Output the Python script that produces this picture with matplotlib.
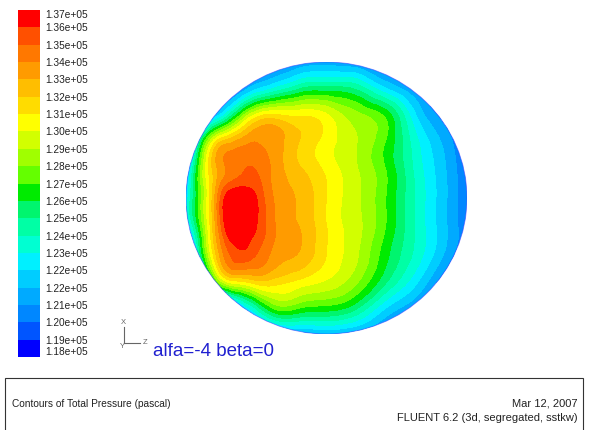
# Contours of total pressure on the outlet face (FLUENT-style snapshot).
import numpy as np
import matplotlib
matplotlib.use("Agg")
import matplotlib.pyplot as plt
import matplotlib.tri as mtri
from matplotlib.colors import ListedColormap, BoundaryNorm
from matplotlib.patches import Circle, Rectangle
from matplotlib.lines import Line2D

plt.rcParams["font.family"] = ["Liberation Sans", "DejaVu Sans"]

# sample nodes across the face, face radius = 1
grid_u = [-1.0, -0.8, -0.7, -0.6, -0.5, -0.4, -0.2, 0.0, 0.2, 0.4, 0.6, 0.8, 1.0]
grid_v = [1.0, 0.8, 0.6, 0.4, 0.2, 0.0, -0.2, -0.4, -0.6, -0.8, -1.0]

pressure_kpa = [
    [118.95, 119.4, 119.65, 119.9, 120.1, 120.4, 120.85, 121.3, 120.85, 120.4, 119.9, 119.4, 118.95],
    [119.4, 119.9, 120.4, 121.3, 122.75, 123.7, 125.6, 126.1, 125.6, 123.2, 121.3, 119.9, 118.95],
    [116.0, 122.3, 125.0, 128.45, 131.0, 131.8, 131.3, 130.6, 128.9, 127.6, 123.6, 120.85, 119.4],
    [117.5, 131.3, 133.2, 133.9, 134.2, 133.9, 132.25, 130.8, 129.5, 127.7, 124.6, 122.0, 119.6],
    [121.3, 132.6, 134.3, 135.0, 135.1, 134.15, 132.5, 131.1, 129.6, 127.8, 124.9, 122.4, 119.9],
    [123.0, 133.0, 136.7, 137.0, 136.1, 134.4, 133.1, 131.3, 129.7, 127.8, 125.0, 122.5, 120.0],
    [122.3, 132.8, 136.8, 137.0, 136.1, 134.6, 133.2, 131.3, 129.8, 127.8, 125.0, 122.5, 120.0],
    [117.5, 131.8, 135.0, 135.9, 135.2, 134.15, 133.2, 131.3, 129.7, 127.2, 124.8, 122.3, 119.8],
    [115.0, 127.5, 131.3, 131.8, 132.4, 132.25, 131.3, 130.35, 128.9, 126.2, 123.6, 120.85, 118.5],
    [118.0, 118.95, 120.0, 122.75, 125.2, 127.5, 127.8, 127.3, 126.1, 123.2, 121.3, 119.4, 118.0],
    [118.0, 118.0, 118.5, 118.95, 119.6, 120.4, 121.3, 121.8, 121.3, 120.4, 118.95, 118.0, 118.0],
]

level_min = 1.18e5
level_max = 1.37e5
n_bands = 20
tick_labels = [
    "1.18e+05", "1.19e+05", "1.20e+05", "1.21e+05", "1.22e+05", "1.22e+05",
    "1.23e+05", "1.24e+05", "1.25e+05", "1.26e+05", "1.27e+05", "1.28e+05",
    "1.29e+05", "1.30e+05", "1.31e+05", "1.32e+05", "1.33e+05", "1.34e+05",
    "1.35e+05", "1.36e+05", "1.37e+05",
]
band_colors = [
    "#0000ff", "#0055ff", "#0087ff", "#00aaff", "#00cdff", "#00f0ff",
    "#00ffd2", "#00ffa5", "#00f56e", "#00eb00", "#64ff00", "#a0ff00",
    "#d2ff00", "#ffff00", "#ffdc00", "#ffbe00", "#ff9b00", "#ff7800",
    "#ff5000", "#ff0000",
]

W, H = 590, 430
fig = plt.figure(figsize=(W / 100, H / 100), dpi=100)


def px_axes(x0, y0, x1, y1):
    return fig.add_axes([x0 / W, 1 - y1 / H, (x1 - x0) / W, (y1 - y0) / H])


# contour face
ax = px_axes(186, 62, 467, 334)
U, V = np.meshgrid(grid_u, grid_v)
P = np.array(pressure_kpa).ravel() * 1000.0
tri = mtri.Triangulation(U.ravel(), V.ravel())
interp = mtri.CubicTriInterpolator(tri, P, kind="min_E")
tri_f, P_f = mtri.UniformTriRefiner(tri).refine_field(P, triinterpolator=interp, subdiv=4)
P_f = np.clip(P_f, level_min + 1, level_max - 1)

levels = np.linspace(level_min, level_max, n_bands + 1)
cmap = ListedColormap(band_colors)
norm = BoundaryNorm(levels, cmap.N)
cs = ax.tricontourf(tri_f, P_f, levels=levels, cmap=cmap, norm=norm)
face = Circle((0, 0), 1.0, transform=ax.transData)
cs.set_clip_path(face)
ax.add_patch(Circle((0, 0), 1.0, fill=False, ec="#3a3aff", lw=0.6, alpha=0.6))
ax.set_xlim(-1, 1)
ax.set_ylim(-1, 1)
ax.axis("off")

# colour scale
cax = px_axes(18, 10, 40, 357)
cb = fig.colorbar(cs, cax=cax, ticks=levels)
cb.outline.set_visible(False)
cb.set_ticklabels(tick_labels)
cax.tick_params(length=0, pad=4, labelsize=7.3, colors="#222222")
fig.canvas.draw()
ticks = cax.yaxis.get_major_ticks()
ticks[0].label2.set_va("bottom")
ticks[-1].label2.set_va("top")

# view triad
tri_c = "#666666"
fig.add_artist(Line2D([124 / W, 124 / W], [1 - 327 / H, 1 - 343 / H],
                      transform=fig.transFigure, color=tri_c, lw=0.8))
fig.add_artist(Line2D([124 / W, 140 / W], [1 - 343 / H, 1 - 343 / H],
                      transform=fig.transFigure, color=tri_c, lw=0.8))
fig.text(123 / W, 1 - 322 / H, "X", fontsize=5.5, color=tri_c, ha="center", va="center")
fig.text(145 / W, 1 - 343 / H, "Z", fontsize=5.5, color=tri_c, ha="center", va="center")
fig.text(122 / W, 1 - 346 / H, "Y", fontsize=5.5, color=tri_c, ha="center", va="center")
fig.text(153 / W, 1 - 351 / H, "alfa=-4 beta=0", fontsize=13.5, color="#2020d0",
         ha="left", va="center")

# title block
fig.add_artist(Rectangle((5 / W, -0.05), 578 / W, 1 - 378 / H + 0.05,
                         transform=fig.transFigure, fill=False, ec="#333333", lw=0.8))
fig.text(12 / W, 1 - 404 / H, "Contours of Total Pressure (pascal)",
         fontsize=7.3, color="#222222", ha="left", va="center")
fig.text(578 / W, 1 - 403 / H, "Mar 12, 2007",
         fontsize=8, color="#222222", ha="right", va="center")
fig.text(578 / W, 1 - 418 / H, "FLUENT 6.2 (3d, segregated, sstkw)",
         fontsize=8, color="#222222", ha="right", va="center")

fig.savefig("out.png", dpi=100, facecolor="white")
